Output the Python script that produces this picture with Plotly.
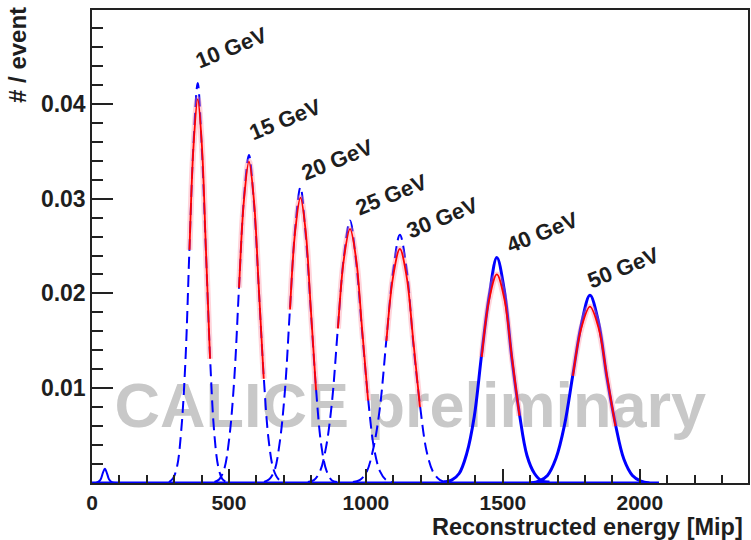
import plotly.graph_objects as go

# ---------------- data ----------------
energies = ["10 GeV", "15 GeV", "20 GeV", "25 GeV", "30 GeV", "40 GeV", "50 GeV"]
peak_mean = [386, 573, 761, 942, 1124, 1478, 1818]      # Mip
peak_sigma = [30, 36, 38, 44, 49, 55, 62]                # Mip

# histogram samples at offsets (in units of sigma) from the peak
bin_offsets = [-3.5, -3.0, -2.5, -2.0, -1.5, -1.0, -0.5, 0.0, 0.5, 1.0, 1.5, 2.0, 2.5, 3.0, 3.5]
hist_10 = [0.0001, 0.0005, 0.0018, 0.0056, 0.0128, 0.0249, 0.0361, 0.0422, 0.0352, 0.0243, 0.0133, 0.0054, 0.0017, 0.0004, 0.0001]
hist_15 = [0.0001, 0.0004, 0.0015, 0.0047, 0.0108, 0.0208, 0.0302, 0.0346, 0.0296, 0.0204, 0.0112, 0.0045, 0.0014, 0.0004, 0.0001]
hist_20 = [0.0001, 0.0004, 0.0013, 0.0042, 0.0096, 0.0185, 0.0270, 0.0312, 0.0262, 0.0181, 0.0099, 0.0040, 0.0013, 0.0003, 0.0001]
hist_25 = [0.0001, 0.0003, 0.0012, 0.0037, 0.0085, 0.0165, 0.0240, 0.0277, 0.0234, 0.0160, 0.0089, 0.0036, 0.0012, 0.0003, 0.0001]
hist_30 = [0.0001, 0.0003, 0.0011, 0.0035, 0.0078, 0.0152, 0.0224, 0.0262, 0.0226, 0.0147, 0.0082, 0.0033, 0.0011, 0.0003, 0.0001]
hist_40 = [0.0001, 0.0003, 0.0010, 0.0031, 0.0070, 0.0137, 0.0198, 0.0238, 0.0203, 0.0131, 0.0073, 0.0029, 0.0010, 0.0002, 0.0001]
hist_50 = [0.0000, 0.0002, 0.0008, 0.0026, 0.0061, 0.0115, 0.0168, 0.0198, 0.0170, 0.0111, 0.0062, 0.0025, 0.0008, 0.0002, 0.0000]
hists = [hist_10, hist_15, hist_20, hist_25, hist_30, hist_40, hist_50]

# Gaussian fits (red), sampled over the fit range
fit_offsets = [-1.0, -0.5, 0.0, 0.5, 1.0, 1.5]
fit_10 = [0.0246, 0.0357, 0.0405, 0.0357, 0.0246, 0.0131]
fit_15 = [0.0206, 0.0299, 0.0339, 0.0299, 0.0206, 0.0110]
fit_20 = [0.0183, 0.0266, 0.0301, 0.0266, 0.0183, 0.0098]
fit_25 = [0.0163, 0.0237, 0.0268, 0.0237, 0.0163, 0.0087]
fit_30 = [0.0150, 0.0218, 0.0247, 0.0218, 0.0150, 0.0080]
fit_40 = [0.0133, 0.0194, 0.0220, 0.0194, 0.0133, 0.0071]
fit_50 = [0.0113, 0.0164, 0.0186, 0.0164, 0.0113, 0.0060]
fits = [fit_10, fit_15, fit_20, fit_25, fit_30, fit_40, fit_50]

# small pedestal bump near zero
pedestal_x = [15, 30, 40, 47, 55, 62, 72, 90]
pedestal_y = [0.0, 0.0003, 0.0011, 0.0015, 0.0010, 0.0004, 0.0001, 0.0]

x_ticks = [0, 500, 1000, 1500, 2000]
y_ticks = [0.01, 0.02, 0.03, 0.04]

# label anchor positions (layout only)
label_x = [511, 705, 898, 1095, 1281, 1643, 1942]
label_y = [0.0459, 0.0383, 0.0341, 0.0304, 0.0280, 0.0264, 0.0227]

FONT = "Liberation Sans, Arial, Helvetica, sans-serif"
TXT = "#1e1e1e"

fig = go.Figure()

# watermark (drawn first so the data lies over it)
fig.add_trace(go.Scatter(
    x=[1162], y=[0.0076], mode="text", text=["CALICE preliminary"],
    textposition="middle center",
    textfont=dict(family=FONT, size=63, color="#c8c8c8", weight="bold"),
    hoverinfo="skip", showlegend=False, cliponaxis=False))

# baseline of all histograms (empty bins)
fig.add_trace(go.Scatter(x=[0, 2070], y=[0.00004, 0.00004], mode="lines",
                         line=dict(color="rgb(0,0,255)", width=2),
                         showlegend=False, hoverinfo="skip"))
fig.add_trace(go.Scatter(x=pedestal_x, y=pedestal_y, mode="lines",
                         line=dict(color="rgb(0,0,255)", width=2, shape="spline"),
                         showlegend=False, hoverinfo="skip"))

for i, (m, s, h) in enumerate(zip(peak_mean, peak_sigma, hists)):
    xs = [m + o * s for o in bin_offsets]
    solid = i >= 5
    fig.add_trace(go.Scatter(
        x=xs, y=h, mode="lines",
        line=dict(color="rgb(0,0,255)", width=3 if solid else 2,
                  dash="solid" if solid else "12px,6px", shape="spline", smoothing=1.0),
        showlegend=False, hoverinfo="skip"))

for i, (m, s, f) in enumerate(zip(peak_mean, peak_sigma, fits)):
    xs = [m + o * s for o in fit_offsets]
    fig.add_trace(go.Scatter(
        x=xs, y=f, mode="lines",
        line=dict(color="rgba(255,130,150,0.35)", width=6, shape="spline"),
        showlegend=False, hoverinfo="skip"))
    fig.add_trace(go.Scatter(
        x=xs, y=f, mode="lines",
        line=dict(color="rgb(255,0,0)", width=1.8, shape="spline"),
        showlegend=False, hoverinfo="skip"))

annotations = []
for name, lx, ly in zip(energies, label_x, label_y):
    annotations.append(dict(x=lx, y=ly, xref="x", yref="y", text=name, showarrow=False,
                            textangle=-22, xanchor="center", yanchor="middle",
                            font=dict(family=FONT, size=22, color=TXT, weight="bold")))

annotations.append(dict(x=0.9954, y=-0.093, xref="paper", yref="paper",
                        text="Reconstructed energy [Mip]", showarrow=False,
                        xanchor="right", yanchor="middle",
                        font=dict(family=FONT, size=23.5, color=TXT, weight="bold")))
annotations.append(dict(x=-0.1128, y=0.905, xref="paper", yref="paper",
                        text="# / event", showarrow=False, textangle=-90,
                        xanchor="center", yanchor="middle",
                        font=dict(family=FONT, size=24, color=TXT, weight="bold")))

fig.update_layout(
    width=751, height=540,
    margin=dict(l=92, r=3, t=10, b=57, autoexpand=False),
    paper_bgcolor="white", plot_bgcolor="white",
    showlegend=False,
    annotations=annotations,
    xaxis=dict(range=[0, 2395], tickvals=x_ticks, ticktext=[str(v) for v in x_ticks],
               automargin=False,
               ticks="inside", ticklen=14, tickwidth=1.5, tickcolor="#222",
               showline=True, linecolor="#222", linewidth=1.5, mirror=True,
               showgrid=False, zeroline=False,
               tickfont=dict(family=FONT, size=21, color=TXT, weight="bold"),
               minor=dict(dtick=100, tick0=0, ticks="inside", ticklen=8,
                          tickwidth=1.5, tickcolor="#222", showgrid=False)),
    yaxis=dict(range=[0, 0.0499], tickvals=y_ticks, ticktext=["0.01", "0.02", "0.03", "0.04"],
               automargin=False,
               ticks="inside", ticklen=21, tickwidth=1.5, tickcolor="#222",
               showline=True, linecolor="#222", linewidth=1.5, mirror=True,
               showgrid=False, zeroline=False,
               tickfont=dict(family=FONT, size=23, color=TXT, weight="bold"),
               minor=dict(dtick=0.002, tick0=0, ticks="inside", ticklen=11,
                          tickwidth=1.5, tickcolor="#222", showgrid=False)),
)

fig.write_html(
    "out.html",
    config={"displayModeBar": False},
    post_script="document.body.style.margin='0px';document.body.style.padding='0px';"
                "document.documentElement.style.overflow='hidden';",
)
